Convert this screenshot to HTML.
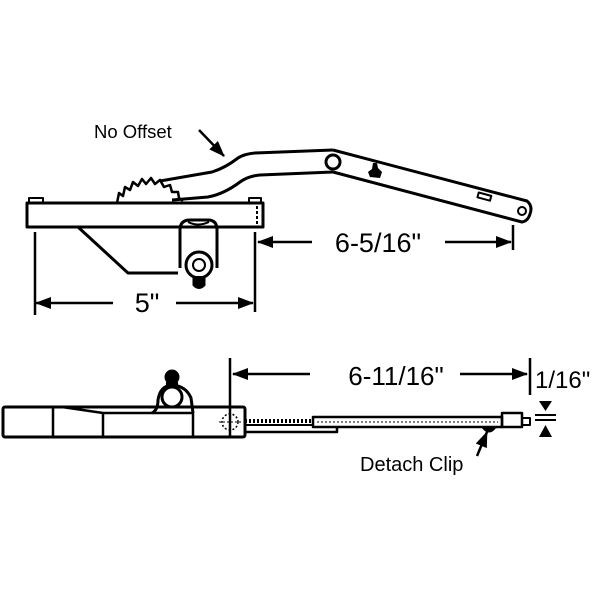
<!DOCTYPE html>
<html><head><style>html,body{margin:0;padding:0;background:#fff}svg{display:block}</style></head>
<body>
<svg width="600" height="600" viewBox="0 0 600 600" xmlns="http://www.w3.org/2000/svg" font-family="Liberation Sans, Arial, sans-serif">
<defs>
<marker id="ahs" markerWidth="16" markerHeight="12" refX="15" refY="6" orient="auto-start-reverse" markerUnits="userSpaceOnUse"><path d="M0,0 L16,6 L0,12 z" fill="#000"/></marker>
</defs>
<g fill="none" stroke="#000" stroke-width="3" stroke-linejoin="round">
<!-- gear -->
<path d="M117,203 L119,193 L123,196 L125,187 L130,190 L133,182 L138,186 L142,179 L146,184 L151,178 L155,184 L160,180 L164,187 L170,185 L172,192 L178,192 L179,198 L183,201" stroke-width="2.5"/>
<!-- arm 1 -->
<path d="M160,181 L212,172 Q225,168 238,158 Q244,154 255,153 L333,150"/>
<path d="M172,200 L208,197 Q224,194 240,182 Q248,176 260,175 L333,172"/>
<!-- arm 2 -->
<path d="M333,150 L527,201 Q533,206 530,214 Q528,221 522,222 L333,172"/>
<circle cx="333" cy="162" r="7"/>
<rect x="478" y="194" width="13" height="5" transform="rotate(15 484 196)" stroke-width="2"/>
<circle cx="522" cy="211" r="4" stroke-width="2"/>
<!-- base bar -->
<rect x="27" y="203" width="236" height="24"/>
<rect x="29" y="198" width="14" height="5" stroke-width="2"/>
<rect x="249" y="198" width="12" height="5" stroke-width="2"/>
<path d="M257,206 v18" stroke-width="2" stroke-dasharray="3,2"/>
<path d="M78,227 L128,273 L178,273"/>
<!-- housing -->
<path d="M180,268 L180,230 Q180,220 190,220 L208,220 Q217,220 217,230 L217,268"/>
<path d="M188,222 Q198,227 209,222" stroke-width="2"/>
<circle cx="199" cy="265" r="13"/>
<circle cx="199" cy="265" r="6" stroke-width="2"/>
<path d="M194,276 L194,285 Q199,290 204,285 L204,276" fill="#000"/>
<!-- dims top -->
<path d="M35,232 V315 M255,232 V312 M513,225 V250" stroke-width="2.5"/>
<path d="M36,303 H113" stroke-width="2.5" marker-start="url(#ahs)"/>
<path d="M176,303 H253" stroke-width="2.5" marker-end="url(#ahs)"/>
<path d="M312,242 H258" stroke-width="2.5" marker-end="url(#ahs)"/>
<path d="M445,242 H511" stroke-width="2.5" marker-end="url(#ahs)"/>
<path d="M199,130 L224,156" stroke-width="2.5" marker-end="url(#ahs)"/>
<!-- bottom body -->
<rect x="3" y="407" width="242" height="30" rx="2"/>
<path d="M53,407 V437 M103,412 V437 M193,412 V437" stroke-width="2.5"/>
<path d="M62,407 L103,413 H193" stroke-width="2.5"/>
<path d="M152,413 Q158,410 158,400 Q160,386 172,385 Q186,386 191,398 L193,413" />
<circle cx="172" cy="397" r="10"/>
<circle cx="172" cy="377" r="6" fill="#000"/>
<path d="M166,382 H178 V388 H166 z" fill="#000" stroke="none"/>
<circle cx="230" cy="422" r="8" stroke-width="1.5" stroke-dasharray="2,2"/>
<path d="M219,422 H241" stroke-width="1" stroke-dasharray="2,2"/>
<!-- rods -->
<path d="M245,425 H313" stroke-width="2"/>
<path d="M245,421 H313" stroke-width="4" stroke-dasharray="2,2"/>
<path d="M245,432 H337 V427" stroke-width="2.5"/>
<rect x="313" y="417" width="189" height="10" stroke-width="2.5"/>
<path d="M317,422 H498" stroke-width="1" stroke-dasharray="2,2"/>
<rect x="502" y="413" width="20" height="14" stroke-width="2.5"/>
<rect x="522" y="418" width="8" height="7" stroke-width="2"/>
<path d="M483,427 Q489,435 495,427" fill="#000"/>
<path d="M477,456 L487,432" stroke-width="2.5" marker-end="url(#ahs)"/>
<!-- bottom dims -->
<path d="M230,358 V437 M530,358 V395" stroke-width="2.5"/>
<path d="M310,374 H233" stroke-width="2.5" marker-end="url(#ahs)"/>
<path d="M460,374 H527" stroke-width="2.5" marker-end="url(#ahs)"/>
<path d="M535,415 H556 M535,420 H556" stroke-width="2"/>
</g>
<path d="M539,401 L552,401 L545.5,411 z M539,437 L552,437 L545.5,425 z" fill="#000"/>
<path d="M368,172 l4,-3 l1,-6 l4,0 l1,5 l4,4 l-2,6 l-10,-1 z" fill="#000"/>
<g fill="#000">
<text x="94" y="138" font-size="18.5">No Offset</text>
<text x="147" y="312" font-size="27" text-anchor="middle">5"</text>
<text x="378" y="252" font-size="27" text-anchor="middle">6-5/16"</text>
<text x="396" y="385" font-size="26" text-anchor="middle">6-11/16"</text>
<text x="535" y="388" font-size="24">1/16"</text>
<text x="360" y="471" font-size="20">Detach Clip</text>
</g>
</svg>
</body></html>
